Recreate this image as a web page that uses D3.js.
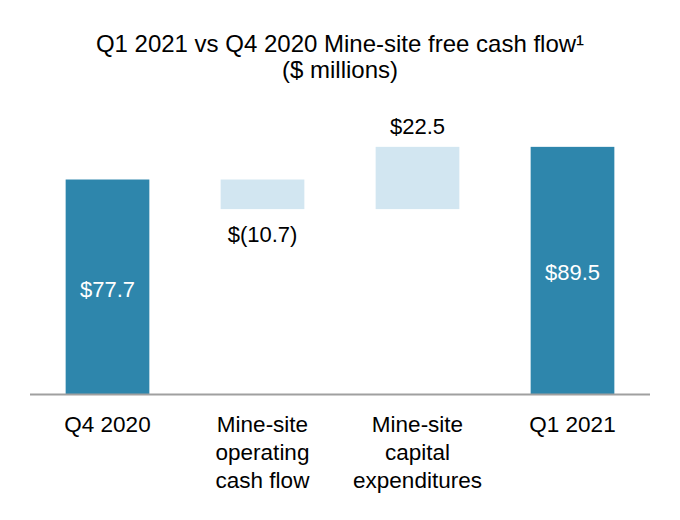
<!DOCTYPE html>
<html>
<head>
<meta charset="utf-8">
<script src="https://cdn.jsdelivr.net/npm/d3@7"></script>
<style>
  body { margin: 0; background: #fff; }
  text { font-family: "Liberation Sans", Arial, sans-serif; }
</style>
</head>
<body>
<svg id="chart" width="680" height="520"></svg>
<script>
const categories = ['Q4 2020', 'Mine-site operating cash flow', 'Mine-site capital expenditures', 'Q1 2021']
const categoryLines = [['Q4 2020'], ['Mine-site', 'operating', 'cash flow'], ['Mine-site', 'capital', 'expenditures'], ['Q1 2021']]
const values = [77.7, -10.7, 22.5, 89.5]
const kinds = ['total', 'delta', 'delta', 'total']
const valueLabels = ['$77.7', '$(10.7)', '$22.5', '$89.5']

const svg = d3.select('#chart')
const baseY = 394.5

// waterfall steps
let running = 0
const steps = categories.map((c, i) => {
  let y0, y1
  if (kinds[i] === 'total') {
    y0 = 0; y1 = values[i]; running = values[i]
  } else {
    y0 = running; y1 = running + values[i]; running = y1
  }
  return {name: c, lines: categoryLines[i], kind: kinds[i], value: values[i], label: valueLabels[i], y0, y1}
})

const x = d3.scaleBand().domain(categories).range([30, 650]).paddingInner(0.46).paddingOuter(0.23)
const y = d3.scaleLinear().domain([0, 100]).range([baseY, baseY - 276.7])

svg.append('text')
  .attr('x', 340).attr('y', 52)
  .attr('text-anchor', 'middle')
  .attr('font-size', 24)
  .text('Q1 2021 vs Q4 2020 Mine-site free cash flow¹')
svg.append('text')
  .attr('x', 340).attr('y', 78)
  .attr('text-anchor', 'middle')
  .attr('font-size', 24)
  .text('($ millions)')

svg.append('g').selectAll('rect')
  .data(steps)
  .enter()
  .append('rect')
  .attr('x', d => x(d.name))
  .attr('width', x.bandwidth())
  .attr('y', d => y(Math.max(d.y0, d.y1)))
  .attr('height', d => Math.abs(y(d.y0) - y(d.y1)))
  .attr('fill', d => d.kind === 'total' ? '#2e86ac' : '#d2e6f1')

// axis line
svg.append('line')
  .attr('x1', x.range()[0]).attr('x2', x.range()[1])
  .attr('y1', baseY).attr('y2', baseY)
  .attr('stroke', '#a0a0a0').attr('stroke-width', 2)

svg.append('g').selectAll('text')
  .data(steps)
  .enter()
  .append('text')
  .attr('x', d => x(d.name) + x.bandwidth() / 2)
  .attr('y', d => {
    if (d.kind === 'total') return (y(d.y0) + y(d.y1)) / 2 + 9.5
    if (d.value < 0) return y(d.y1) + 33
    return y(d.y1) - 13
  })
  .attr('text-anchor', 'middle')
  .attr('font-size', 22)
  .attr('fill', d => d.kind === 'total' ? '#fff' : '#000')
  .text(d => d.label)

const labels = svg.append('g').selectAll('text')
  .data(steps)
  .enter()
  .append('text')
  .attr('text-anchor', 'middle')
  .attr('font-size', 22.5)
  .attr('fill', '#000')

labels.selectAll('tspan')
  .data(d => d.lines.map(l => ({l, cx: x(d.name) + x.bandwidth() / 2})))
  .enter()
  .append('tspan')
  .attr('x', d => d.cx)
  .attr('y', (d, i) => 432 + i * 28)
  .text(d => d.l)
</script>
</body>
</html>
